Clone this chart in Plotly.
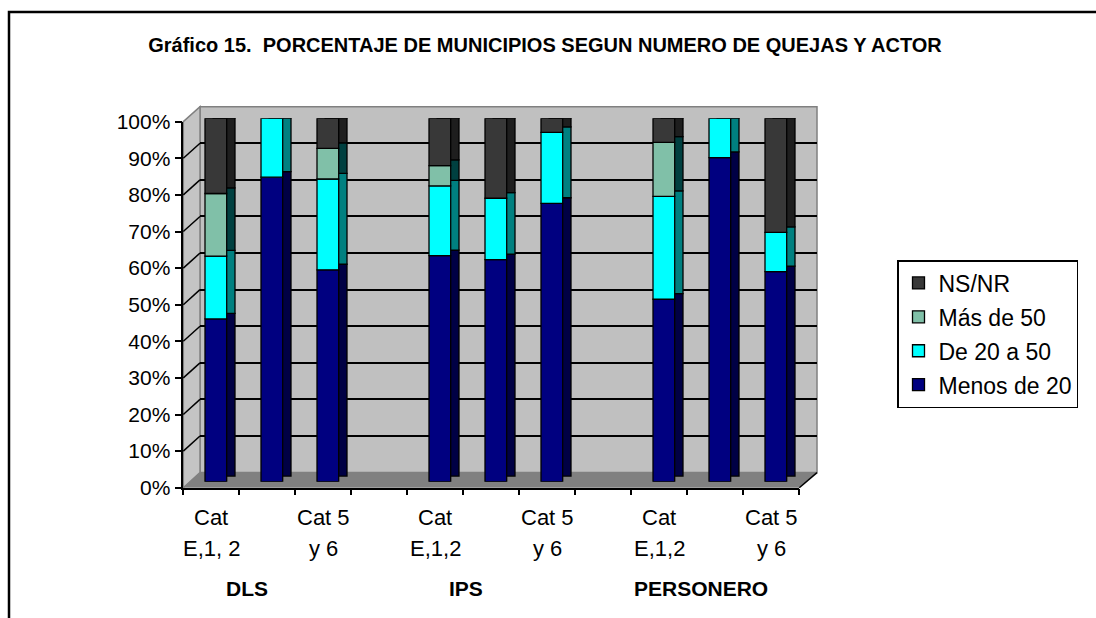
import plotly.graph_objects as go

# ---------------- data ----------------
groups = ["DLS", "IPS", "PERSONERO"]
categories = ["DLS|Cat E,1, 2", "DLS|Cat 3 y 4", "DLS|Cat 5 y 6", "gap1",
              "IPS|Cat E,1,2", "IPS|Cat 3 y 4", "IPS|Cat 5 y 6", "gap2",
              "PERSONERO|Cat E,1,2", "PERSONERO|Cat 3 y 4", "PERSONERO|Cat 5 y 6"]
bar_cats = [c for c in categories if not c.startswith("gap")]
shown_labels = {
    "DLS|Cat E,1, 2": ("Cat", "E,1, 2"),
    "DLS|Cat 5 y 6": ("Cat 5", "y 6"),
    "IPS|Cat E,1,2": ("Cat", "E,1,2"),
    "IPS|Cat 5 y 6": ("Cat 5", "y 6"),
    "PERSONERO|Cat E,1,2": ("Cat", "E,1,2"),
    "PERSONERO|Cat 5 y 6": ("Cat 5", "y 6"),
}
group_label_pos = [0.63, 4.55, 8.75]

series_names = ["Menos de 20", "De 20 a 50", "Más de 50", "NS/NR"]
menos_de_20 = [44.8, 83.8, 58.3, 62.2, 61.1, 76.6, 50.2, 89.2, 57.8]
de_20_a_50 = [17.3, 16.2, 25.0, 19.2, 16.9, 19.5, 28.3, 10.8, 10.8]
mas_de_50 = [17.2, 0.0, 8.4, 5.6, 0.0, 0.0, 14.9, 0.0, 0.0]
ns_nr = [20.7, 0.0, 8.3, 13.0, 22.0, 3.9, 6.6, 0.0, 31.4]
series_values = [menos_de_20, de_20_a_50, mas_de_50, ns_nr]

y_ticks = list(range(0, 101, 10))
y_ticktext = [f"{v}%" for v in y_ticks]

# ---------------- styles ----------------
W, H = 1096, 618
front_colors = ["#000080", "#00FFFF", "#80C0A8", "#383838"]
side_colors = ["#000044", "#008080", "#004040", "#1E1E1E"]
FONT = "Arial, Liberation Sans, sans-serif"


def X(px):
    return px / W


def Y(py):
    return 1 - py / H


# pixel geometry of the pseudo-3D plot box
ax_left, ax_right, ax_bottom, ax_top = 183.3, 799.3, 487.7, 121.7
back_left, back_right, back_bottom, back_top = 200.0, 817.0, 472.6, 106.7
bar_bottom, bar_top = 481.7, 118.3
slot = (ax_right - ax_left) / len(categories)
front_offset = -6.3 / slot
bar_width = 21.7 / slot
depth_dx = 8.3 / slot
depth_dy = 5.6 / ((bar_bottom - bar_top) / 100.0)

fig = go.Figure()

# helper traces so the grid / axis subplots exist
fig.add_trace(go.Scatter(x=[None], y=[None], xaxis="x", yaxis="y",
                         showlegend=False, hoverinfo="skip"))
fig.add_trace(go.Scatter(x=[None], y=[None], xaxis="x2", yaxis="y2",
                         showlegend=False, hoverinfo="skip"))

# cumulative bases
bases = []
cum = [0.0] * len(bar_cats)
for vals in series_values:
    bases.append(cum[:])
    cum = [c + v for c, v in zip(cum, vals)]
totals = cum


def nz(vals):
    return [v if v > 0 else None for v in vals]


# back copies (side faces)
for name, vals, base, col in zip(series_names, series_values, bases, side_colors):
    fig.add_trace(go.Bar(
        x=bar_cats, y=nz(vals), base=[b + depth_dy for b in base],
        offset=front_offset + depth_dx, width=bar_width,
        marker=dict(color=col, line=dict(color="black", width=1.3)),
        xaxis="x3", yaxis="y3", showlegend=False, hoverinfo="skip"))
# top caps
fig.add_trace(go.Bar(
    x=bar_cats, y=[depth_dy] * len(bar_cats), base=totals,
    offset=front_offset + depth_dx, width=bar_width,
    marker=dict(color="#333333", line=dict(color="black", width=1.3)),
    xaxis="x3", yaxis="y3", showlegend=False, hoverinfo="skip"))

# front faces
n_series = len(series_names)
for i, (name, vals, base, col) in enumerate(zip(series_names, series_values, bases, front_colors)):
    fig.add_trace(go.Bar(
        x=bar_cats, y=nz(vals), base=base, name=name,
        offset=front_offset, width=bar_width,
        marker=dict(color=col, line=dict(color="black", width=1.3)),
        xaxis="x3", yaxis="y3", legendgroup=name, legendrank=n_series - i,
        showlegend=True))

shapes = []
# back wall
shapes.append(dict(type="rect", xref="paper", yref="paper", layer="below",
                   x0=X(back_left), x1=X(back_right), y0=Y(back_bottom), y1=Y(back_top),
                   fillcolor="#C0C0C0", line=dict(color="#808080", width=1.5)))
# side wall
shapes.append(dict(type="path", xref="paper", yref="paper", layer="below",
                   path=(f"M {X(ax_left)},{Y(ax_bottom)} L {X(back_left)},{Y(back_bottom)} "
                         f"L {X(back_left)},{Y(back_top)} L {X(ax_left)},{Y(ax_top)} Z"),
                   fillcolor="#C4C4C4", line=dict(color="#808080", width=1.5)))
# floor
shapes.append(dict(type="path", xref="paper", yref="paper", layer="below",
                   path=(f"M {X(ax_left)},{Y(ax_bottom)} L {X(ax_right)},{Y(ax_bottom)} "
                         f"L {X(back_right)},{Y(back_bottom)} L {X(back_left)},{Y(back_bottom)} Z"),
                   fillcolor="#808080", line=dict(width=0)))
# right floor edge
shapes.append(dict(type="line", xref="paper", yref="paper", layer="above",
                   x0=X(ax_right), y0=Y(ax_bottom), x1=X(back_right), y1=Y(back_bottom),
                   line=dict(color="black", width=1.5)))
# tick diagonals
for v in y_ticks[1:-1]:
    fy = ax_bottom - (ax_bottom - ax_top) * v / 100
    by = back_bottom - (back_bottom - back_top) * v / 100
    shapes.append(dict(type="line", xref="paper", yref="paper", layer="below",
                       x0=X(ax_left), y0=Y(fy), x1=X(back_left), y1=Y(by),
                       line=dict(color="black", width=1.5)))
# outer border
shapes.append(dict(type="rect", xref="paper", yref="paper", layer="above",
                   x0=X(9), x1=X(1110), y0=Y(640), y1=Y(12),
                   fillcolor="rgba(0,0,0,0)", line=dict(color="black", width=2.5)))

annotations = []
for cat, (l1, l2) in shown_labels.items():
    annotations.append(dict(x=cat, y=Y(517), xref="x3", yref="paper", text=l1,
                            showarrow=False, xanchor="center", yanchor="middle",
                            font=dict(family=FONT, size=22, color="black")))
    annotations.append(dict(x=cat, y=Y(548), xref="x3", yref="paper", text=l2,
                            showarrow=False, xanchor="center", yanchor="middle",
                            font=dict(family=FONT, size=22, color="black")))
for g, pos in zip(groups, group_label_pos):
    annotations.append(dict(x=pos, y=Y(588), xref="x3", yref="paper", text=f"<b>{g}</b>",
                            showarrow=False, xanchor="center", yanchor="middle",
                            font=dict(family=FONT, size=21, color="black")))

fig.update_layout(
    width=W, height=H, autosize=False,
    margin=dict(l=0, r=0, t=0, b=0, pad=0, autoexpand=False),
    paper_bgcolor="white", plot_bgcolor="rgba(0,0,0,0)",
    barmode="overlay",
    title=dict(text="<b>Gráfico 15.\u00a0 PORCENTAJE DE MUNICIPIOS SEGUN NUMERO DE QUEJAS Y ACTOR</b>",
               x=X(545), y=Y(45), xanchor="center", yanchor="middle",
               xref="paper", yref="paper", automargin=False,
               font=dict(family=FONT, size=20, color="black")),
    xaxis=dict(domain=[X(back_left), X(back_right)], range=[0, 1], visible=False,
               anchor="y", fixedrange=True),
    yaxis=dict(domain=[Y(back_bottom), Y(back_top)], range=[0, 100], anchor="x",
               tickvals=y_ticks[1:-1], showgrid=True, gridcolor="black", gridwidth=1.5,
               showticklabels=False, ticks="", zeroline=False, showline=False),
    xaxis2=dict(domain=[X(ax_left), X(ax_right)], range=[-0.5, len(categories) - 0.5],
                anchor="y2",
                tickvals=[i - 0.5 for i in range(len(categories) + 1)],
                ticks="outside", ticklen=6, tickwidth=1.5, tickcolor="black",
                showticklabels=False, showgrid=False, zeroline=False,
                showline=True, linecolor="black", linewidth=1.5),
    yaxis2=dict(domain=[Y(ax_bottom), Y(ax_top)], range=[0, 100], anchor="x2",
                tickvals=y_ticks, ticktext=y_ticktext,
                ticks="outside", ticklen=7, tickwidth=1.5, tickcolor="black",
                showline=True, linecolor="black", linewidth=1.5,
                showgrid=False, zeroline=False,
                tickfont=dict(family=FONT, size=21, color="black")),
    xaxis3=dict(domain=[X(ax_left), X(ax_right)], type="category",
                categoryorder="array", categoryarray=categories,
                range=[-0.5, len(categories) - 0.5], visible=False, anchor="y3"),
    yaxis3=dict(domain=[Y(bar_bottom), Y(bar_top)], range=[0, 100], visible=False,
                anchor="x3"),
    legend=dict(x=X(897), y=Y(260), xanchor="left", yanchor="top",
                bgcolor="white", bordercolor="black", borderwidth=1.5,
                font=dict(family=FONT, size=23, color="black"),
                traceorder="grouped", tracegroupgap=1,
                itemclick=False, itemdoubleclick=False),
    shapes=shapes, annotations=annotations,
    showlegend=True,
)

fig.write_html(
    "out.html",
    config={"displayModeBar": False},
    post_script="document.body.style.margin='0';document.body.style.overflow='hidden';",
)
